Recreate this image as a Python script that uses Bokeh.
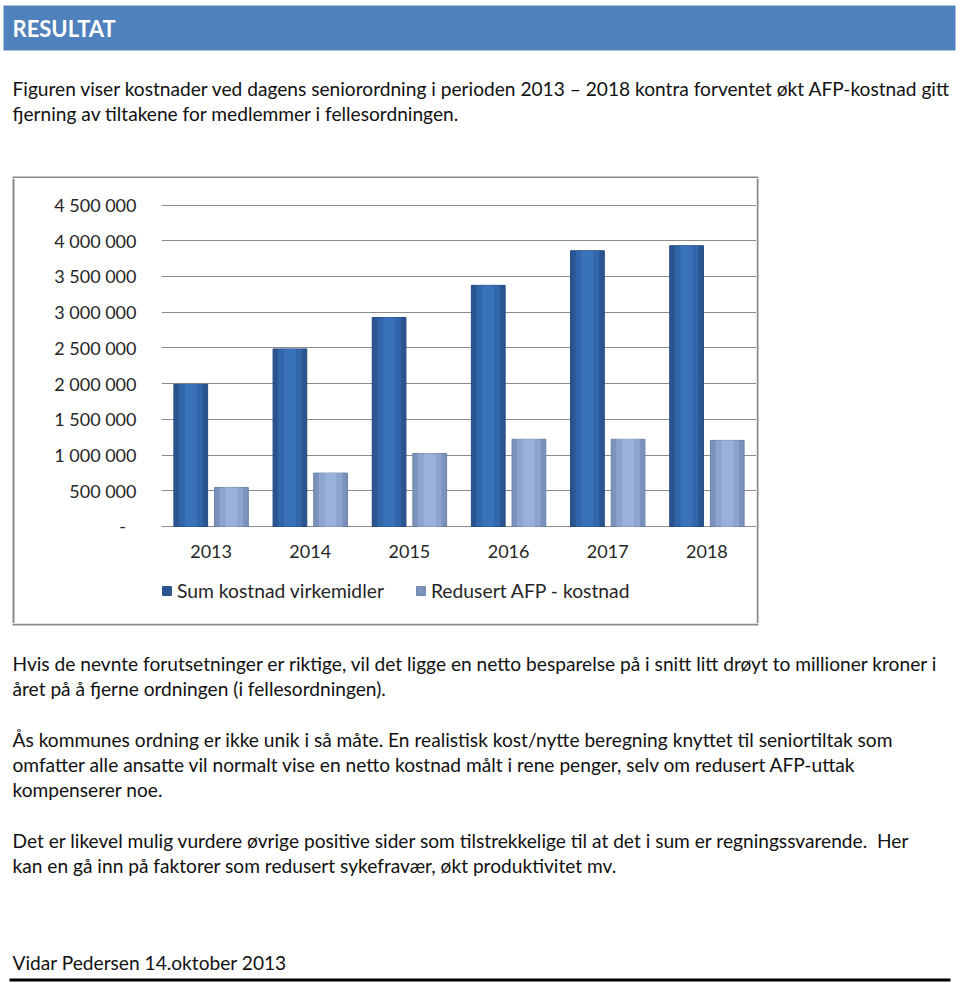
from bokeh.plotting import figure
from bokeh.layouts import column, row
from bokeh.models import (Range1d, FactorRange, FixedTicker, Label, BoxAnnotation,
                          Legend, LegendItem, ColumnDataSource)
from bokeh.transform import dodge
from bokeh.embed import file_html
from bokeh.resources import INLINE

# ---------------- data ----------------
years = ["2013", "2014", "2015", "2016", "2017", "2018"]
sum_kostnad = [1990000, 2485000, 2925000, 3375000, 3860000, 3930000]
redusert_afp = [547000, 747000, 1022000, 1220000, 1220000, 1205000]
series_names = ["Sum kostnad virkemidler", "Redusert AFP - kostnad"]
y_ticks = [0, 500000, 1000000, 1500000, 2000000, 2500000, 3000000, 3500000, 4000000, 4500000]
y_tick_labels = ["-\u2007", "500 000", "1 000 000", "1 500 000", "2 000 000", "2 500 000",
                 "3 000 000", "3 500 000", "4 000 000", "4 500 000"]

heading = "RESULTAT"
intro_lines = [
    "Figuren viser kostnader ved dagens seniorordning i perioden 2013 \u2013 2018 kontra forventet økt AFP-kostnad gitt",
    "fjerning av tiltakene for medlemmer i fellesordningen.",
]
para2_lines = [
    "Hvis de nevnte forutsetninger er riktige, vil det ligge en netto besparelse på i snitt litt drøyt to millioner kroner i",
    "året på å fjerne ordningen (i fellesordningen).",
]
para3_lines = [
    "Ås kommunes ordning er ikke unik i så måte. En realistisk kost/nytte beregning knyttet til seniortiltak som",
    "omfatter alle ansatte vil normalt vise en netto kostnad målt i rene penger, selv om redusert AFP-uttak",
    "kompenserer noe.",
]
para4_lines = [
    "Det er likevel mulig vurdere øvrige positive sider som tilstrekkelige til at det i sum er regningssvarende.\u00a0 Her",
    "kan en gå inn på faktorer som redusert sykefravær, økt produktivitet mv.",
]
signature = "Vidar Pedersen 14.oktober 2013"

# ---------------- style ----------------
FONT = "Lato"
TXT = "#111111"
CHART_TXT = "#262626"
BOX_COL = "#8A8A8A"
BODY_SIZE = "19.15px"

W = 958
TOP_H, MID_H, BOT_H = 178, 445, 359
LEFT_W, CHART_W = 15, 741
RIGHT_W = W - LEFT_W - CHART_W


def blank(w, h):
    f = figure(width=w, height=h, x_range=Range1d(0, w), y_range=Range1d(h, 0),
               output_backend="svg", toolbar_location=None, title=None,
               min_border=0, x_axis_type=None, y_axis_type=None)
    f.grid.visible = False
    f.outline_line_color = None
    f.background_fill_color = "white"
    f.border_fill_color = "white"
    return f


def rect(f, l, r, t, b, color):
    f.add_layout(BoxAnnotation(left=l, right=r, top=t, bottom=b, fill_color=color,
                               fill_alpha=1, line_color=None))


def add_lines(f, lines, y0, step=25, x0=12):
    for k, line in enumerate(lines):
        f.add_layout(Label(x=x0, y=y0 + k * step, text=line, text_font=FONT,
                           text_font_size=BODY_SIZE, text_color=TXT,
                           text_baseline="middle", text_align="left"))


# ---------------- top block: header + intro ----------------
top = blank(W, TOP_H)
rect(top, 3, 955, 5, 50, "#4F81BD")
top.add_layout(Label(x=12, y=28, text=heading, text_font=FONT, text_font_style="bold",
                     text_font_size="22px", text_color="white",
                     text_baseline="middle", text_align="left"))
add_lines(top, intro_lines, 88)
rect(top, 12, 758, 176, 178, BOX_COL)          # top edge of chart box

# ---------------- chart ----------------
src = ColumnDataSource(dict(year=years, sum_kostnad=sum_kostnad, redusert_afp=redusert_afp))

chart = figure(width=CHART_W, height=MID_H, x_range=FactorRange(*years),
               y_range=Range1d(-1358000, 4871000),
               output_backend="svg", toolbar_location=None, title=None,
               min_border_left=146, min_border_right=0,
               min_border_top=0, min_border_bottom=0)
chart.outline_line_color = None
chart.background_fill_color = "white"
chart.border_fill_color = "white"

dark_layers = [(0.34, "#2A5590"), (0.24, "#3166AA"), (0.12, "#3A72BA")]
light_layers = [(0.34, "#7A92BC"), (0.24, "#8CA4CE"), (0.12, "#9AB2DB")]
main_renderers = []
for i, (wd, col) in enumerate(dark_layers):
    r = chart.vbar(x=dodge("year", -0.205, range=chart.x_range), top="sum_kostnad", width=wd,
                   source=src, fill_color=col, line_color="#24497E" if i == 0 else None)
    if i == 0:
        main_renderers.append(r)
for i, (wd, col) in enumerate(light_layers):
    r = chart.vbar(x=dodge("year", 0.205, range=chart.x_range), top="redusert_afp", width=wd,
                   source=src, fill_color=col, line_color="#6A80A8" if i == 0 else None)
    if i == 0:
        main_renderers.append(r)

chart.yaxis.ticker = FixedTicker(ticks=y_ticks)
chart.yaxis.major_label_overrides = {t: lab for t, lab in zip(y_ticks, y_tick_labels)}
chart.yaxis.axis_line_color = None
chart.yaxis.major_tick_line_color = None
chart.yaxis.minor_tick_line_color = None
chart.yaxis.major_tick_out = 0
chart.yaxis.major_tick_in = 0
chart.yaxis.major_label_standoff = 25
chart.yaxis.major_label_text_font = FONT
chart.yaxis.major_label_text_font_size = "18px"
chart.yaxis.major_label_text_color = CHART_TXT

chart.xaxis.axis_line_color = None
chart.xaxis.major_tick_line_color = None
chart.xaxis.major_tick_out = 0
chart.xaxis.major_tick_in = 0
chart.xaxis.major_label_standoff = -79
chart.xaxis.major_label_text_font = FONT
chart.xaxis.major_label_text_font_size = "18px"
chart.xaxis.major_label_text_color = CHART_TXT

chart.xgrid.grid_line_color = None
chart.ygrid.ticker = FixedTicker(ticks=y_ticks)
chart.ygrid.grid_line_color = "#8C8C8C"
chart.ygrid.grid_line_width = 1

legend = Legend(items=[LegendItem(label=series_names[0], renderers=[main_renderers[0]]),
                       LegendItem(label=series_names[1], renderers=[main_renderers[1]])],
                location=(0, 21), orientation="horizontal",
                glyph_width=11, glyph_height=11, label_height=20, label_standoff=5,
                spacing=31, padding=0, margin=0, border_line_color=None,
                background_fill_alpha=0, label_text_font=FONT,
                label_text_font_size="19.3px", label_text_color=CHART_TXT)
chart.add_layout(legend)

left_strip = blank(LEFT_W, MID_H)
rect(left_strip, 12, 14, 0, MID_H, BOX_COL)
right_strip = blank(RIGHT_W, MID_H)
rect(right_strip, 0, 2, 0, MID_H, BOX_COL)

# ---------------- bottom block: text ----------------
bottom = blank(W, BOT_H)
rect(bottom, 12, 758, 0, 2, BOX_COL)           # bottom edge of chart box
add_lines(bottom, para2_lines, 40)
add_lines(bottom, para3_lines, 116)
add_lines(bottom, para4_lines, 217)
add_lines(bottom, [signature], 339)
rect(bottom, 9, 950, 355, 358, "black")

layout = column(top, row(left_strip, chart, right_strip), bottom)
open("out.html", "w").write(file_html(layout, INLINE))
